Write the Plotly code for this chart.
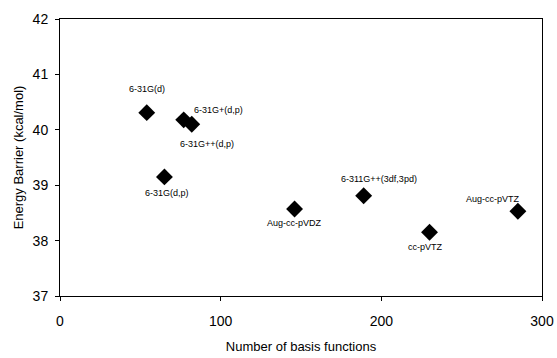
import plotly.graph_objects as go

basis_sets = ["6-31G(d)", "6-31G(d,p)", "6-31G+(d,p)", "6-31G++(d,p)",
              "Aug-cc-pVDZ", "6-311G++(3df,3pd)", "cc-pVTZ", "Aug-cc-pVTZ"]
n_basis = [54, 65, 77, 82, 146, 189, 230, 285]
barrier = [40.31, 39.15, 40.18, 40.10, 38.57, 38.81, 38.15, 38.53]

x_ticks = [0, 100, 200, 300]
y_ticks = [37, 38, 39, 40, 41, 42]

# label offsets (pixels) relative to each point
label_dx = [0, 3, 35, 15, 0, 15, -4, -25]
label_dy = [24, -16, 10, -20, -14, 17, -15, 12]

FONT = "Liberation Sans, Arial, sans-serif"

fig = go.Figure()
fig.add_trace(go.Scatter(
    x=n_basis, y=barrier, mode="markers",
    marker=dict(symbol="diamond", size=13, color="black",
                line=dict(width=0)),
    showlegend=False,
))

for name, xv, yv, dx, dy in zip(basis_sets, n_basis, barrier, label_dx, label_dy):
    fig.add_annotation(x=xv, y=yv, xref="x", yref="y", text=name,
                       showarrow=False, xshift=dx, yshift=dy,
                       font=dict(family=FONT, size=9, color="black"))

fig.update_layout(
    width=557, height=358,
    margin=dict(l=60, r=15, t=19, b=62),
    paper_bgcolor="white", plot_bgcolor="white",
    font=dict(family=FONT, color="black"),
)
fig.update_xaxes(
    range=[0, 300], tickvals=x_ticks, ticks="outside", ticklen=4,
    tickcolor="black", showgrid=False, zeroline=False, automargin=False,
    showline=True, linecolor="black", linewidth=1, mirror=True,
    tickfont=dict(size=14, family=FONT), ticklabelstandoff=8,
    title=dict(text="Number of basis functions", font=dict(size=13, family=FONT),
               standoff=14),
)
fig.update_yaxes(
    range=[37, 42], tickvals=y_ticks, ticks="outside", ticklen=4,
    tickcolor="black", showgrid=False, zeroline=False, automargin=False,
    showline=True, linecolor="black", linewidth=1, mirror=True,
    tickfont=dict(size=14, family=FONT), ticklabelstandoff=4,
    title=dict(text="Energy Barrier (kcal/mol)", font=dict(size=13, family=FONT),
               standoff=6),
)

fig.write_html("out.html")
